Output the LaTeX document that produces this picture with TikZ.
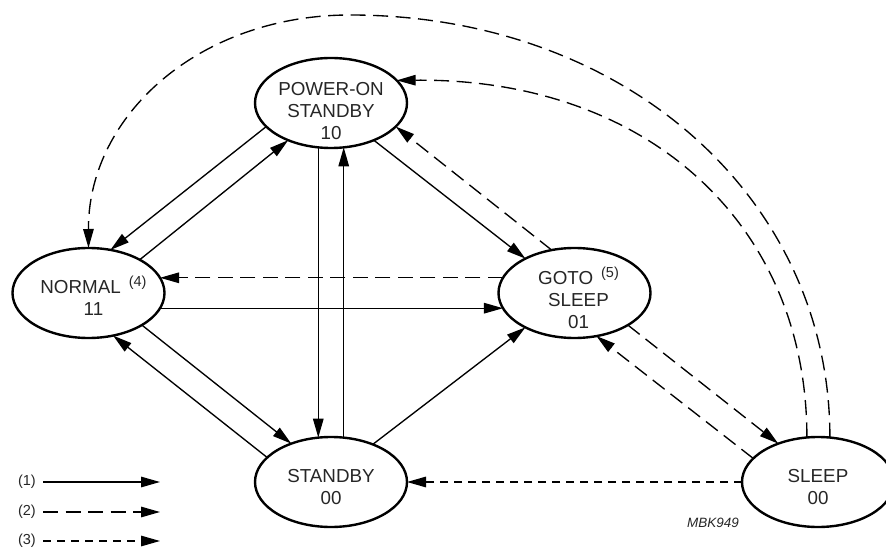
\documentclass[tikz,border=0pt]{standalone}
\usepackage{fontspec}
\setmainfont{Liberation Sans}
\usetikzlibrary{arrows.meta,shapes.geometric}
\newcommand\supnum[1]{\hspace{8pt}\raisebox{7pt}{\fontsize{14.5}{14.5}\selectfont #1}}
\begin{document}
\begin{tikzpicture}[x=1pt,y=-1pt,
  state/.style={ellipse, draw, line width=2.4pt, minimum width=152pt, minimum height=90pt, inner sep=0pt, outer sep=0pt},
  stext/.style={font=\fontsize{18.8}{22}\selectfont, text=black!85, align=center, inner sep=0pt},
  legtext/.style={font=\fontsize{14.5}{16}\selectfont, text=black!85, inner sep=0pt},
  conn/.style={line width=1.35pt, -{Triangle[length=19pt,width=10.5pt]}},
  solidc/.style={conn},
  dashc/.style={conn, dash pattern=on 15pt off 7.5pt},
  dotc/.style={conn, dash pattern=on 8pt off 6pt},
]
\useasboundingbox (0,0) rectangle (886,553);

% states
\node[state, label={[stext, yshift=-8pt]center:{POWER-ON\\STANDBY\\10}}] (pos) at (331,103) {};
\node[state, label={[stext, xshift=5pt, yshift=-3pt]center:{NORMAL\supnum{(4)}\\11}}] (normal) at (88.5,293) {};
\node[state, label={[stext, xshift=4pt, yshift=-5pt]center:{GOTO\supnum{(5)}\\SLEEP\\01}}] (goto) at (574.5,293) {};
\node[state, label={[stext, yshift=-5.5pt]center:{STANDBY\\00}}] (standby) at (331,482) {};
\node[state, label={[stext, yshift=-5.5pt]center:{SLEEP\\00}}] (sleep) at (818,482) {};

% connectors
\draw[solidc] (pos.200) -- (normal.63);
\draw[solidc] (normal.33) -- (pos.221);
\draw[solidc] (pos.254) -- (standby.106);
\draw[solidc] (standby.74) -- (pos.286);
\draw[solidc] (pos.-41) -- (goto.145);
\draw[dashc] (goto.118) -- (pos.-20);
\draw[dashc] (goto.168) -- (normal.12);
\draw[solidc] (normal.-12) -- (goto.192);
\draw[solidc] (normal.-31) -- (standby.136);
\draw[solidc] (standby.159) -- (normal.-60);
\draw[solidc] (standby.42) -- (goto.215);
\draw[dashc] (goto.-31) -- (sleep.136);
\draw[dashc] (sleep.160) -- (goto.-63);
\draw[dotc] (sleep.180) -- (standby.0);
\draw[dashc] (sleep.75) .. controls (830,197) and (624,15) .. (350,15)
   .. controls (200,15) and (88,115) .. (normal.90);
\draw[dashc] (sleep.104) .. controls (807,222) and (645,78) .. (pos.19);

% legend
\node[legtext, anchor=east] (k1) at (36,482) {(1)};
\node[legtext, anchor=east] (k2) at (36,512) {(2)};
\node[legtext, anchor=east] (k3) at (36,541) {(3)};
\coordinate (k1a) at (43,482); \coordinate (k1b) at (160,482);
\coordinate (k2a) at (43,512); \coordinate (k2b) at (160,512);
\coordinate (k3a) at (43,541); \coordinate (k3b) at (160,541);
\draw[solidc] (k1a) -- (k1b);
\draw[dashc] (k2a) -- (k2b);
\draw[dotc] (k3a) -- (k3b);

\node[font=\fontsize{13.5}{16}\selectfont\itshape, text=black!85, anchor=base west, inner sep=0pt] (ref) at (687,527) {MBK949};
\end{tikzpicture}
\end{document}
